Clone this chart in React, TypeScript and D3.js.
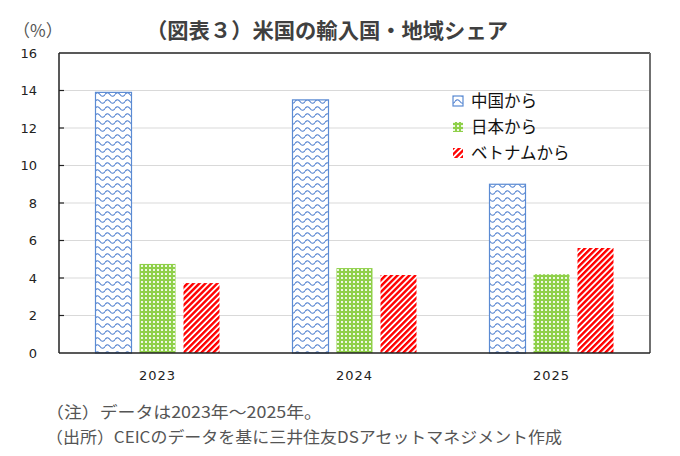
import React from "react";
import * as d3 from "d3";

// Import share of the US by partner (percent)
const years = ["2023", "2024", "2025"];
const seriesNames = ["中国から", "日本から", "ベトナムから"];
const chinaShare = [13.9, 13.5, 9.0];
const japanShare = [4.75, 4.53, 4.2];
const vietnamShare = [3.73, 4.16, 5.6];
const yTicks = [0, 2, 4, 6, 8, 10, 12, 14, 16];

const title = "（図表３）米国の輸入国・地域シェア";
const unitLabel = "（%）";
const notes = [
  "（注）データは2023年～2025年。",
  "（出所）CEICのデータを基に三井住友DSアセットマネジメント作成",
];
const noteWidths = [276, 516];

const W = 680;
const H = 456;
const plot = { left: 59, right: 650, top: 53, bottom: 353 };

const JP = "'Noto Sans CJK JP', 'Noto Sans', sans-serif";
const NUM = "'DejaVu Sans', Verdana, sans-serif";

export default function App() {
  const x = d3.scaleBand<string>().domain(years).range([plot.left, plot.right]);
  const groupWidth = 124;
  const inner = d3
    .scaleBand<string>()
    .domain(seriesNames)
    .range([0, groupWidth])
    .paddingInner(8 / 44)
    .paddingOuter(0);
  const y = d3.scaleLinear().domain([0, 16]).range([plot.bottom, plot.top]);

  const values = [chinaShare, japanShare, vietnamShare];
  const fills = ["url(#pat-china)", "url(#pat-japan)", "url(#pat-vietnam)"];
  const strokes = ["#5b8bd3", "none", "none"];

  const bars = years.flatMap((yr, i) =>
    seriesNames.map((s, j) => {
      const v = values[j][i];
      const x0 = (x(yr) as number) + x.bandwidth() / 2 - groupWidth / 2 + (inner(s) as number);
      return { key: `${yr}-${s}`, x: x0, w: inner.bandwidth(), y: y(v), h: y(0) - y(v), j };
    })
  );

  const legendX = 453;
  const legendY = [101, 127, 153];

  return (
    <svg width={W} height={H} style={{ display: "block", position: "absolute", left: 0, top: 0 }}>
      <defs>
        <pattern id="pat-china" patternUnits="userSpaceOnUse" width={10} height={7} x={95}>
          <rect width={10} height={7} fill="#fff" />
          <path d="M0,3.5 Q2.5,0 5,3.5 T10,3.5" fill="none" stroke="#4f7fcf" strokeWidth={1.1} />
        </pattern>
        <pattern id="pat-japan" patternUnits="userSpaceOnUse" width={4} height={4}>
          <rect width={4} height={4} fill="#8fd04a" />
          <rect x={1} y={1} width={2} height={2} fill="#ffffff" opacity={0.85} />
        </pattern>
        <pattern
          id="pat-vietnam"
          patternUnits="userSpaceOnUse"
          width={4.2}
          height={4.2}
          patternTransform="rotate(45)"
        >
          <rect width={4.2} height={4.2} fill="#fff" />
          <rect width={2.4} height={4.2} fill="#ff0000" />
        </pattern>
      </defs>

      {/* gridlines */}
      {yTicks
        .filter((t) => t > 0 && t < 16)
        .map((t) => (
          <line key={`g${t}`} x1={plot.left} x2={plot.right} y1={y(t)} y2={y(t)} stroke="#d9d9d9" strokeWidth={1} />
        ))}

      {/* bars */}
      {bars.map((b) => (
        <rect
          key={b.key}
          x={b.x}
          y={b.y}
          width={b.w}
          height={b.h}
          fill={fills[b.j]}
          stroke={strokes[b.j]}
          strokeWidth={1.2}
        />
      ))}

      {/* frame */}
      <line x1={plot.left} x2={plot.right} y1={plot.top} y2={plot.top} stroke="#222" strokeWidth={1.3} />
      <line x1={plot.right} x2={plot.right} y1={plot.top} y2={plot.bottom} stroke="#707070" strokeWidth={2} />
      <line x1={plot.left} x2={plot.left} y1={plot.top} y2={plot.bottom} stroke="#222" strokeWidth={1.5} />
      <line x1={plot.left} x2={plot.right} y1={plot.bottom} y2={plot.bottom} stroke="#222" strokeWidth={1.5} />

      {/* y ticks and labels */}
      {yTicks.map((t) => (
        <g key={`t${t}`}>
          {t > 0 && t < 16 && (
            <line x1={plot.left} x2={plot.left + 5} y1={y(t)} y2={y(t)} stroke="#222" strokeWidth={1.2} />
          )}
          <text x={37} y={y(t)} dy="0.36em" textAnchor="end" fontFamily={NUM} fontSize={13} fill="#222">
            {t}
          </text>
        </g>
      ))}

      {/* x labels */}
      {years.map((yr) => (
        <text
          key={`x${yr}`}
          x={(x(yr) as number) + x.bandwidth() / 2}
          y={380}
          textAnchor="middle"
          fontFamily={NUM}
          fontSize={13}
          letterSpacing={1}
          fill="#222"
        >
          {yr}
        </text>
      ))}

      {/* legend */}
      {seriesNames.map((s, j) => (
        <g key={`l${s}`}>
          <rect
            x={legendX}
            y={legendY[j] - 5}
            width={10}
            height={10}
            fill={fills[j]}
            stroke={strokes[j]}
            strokeWidth={1.2}
          />
          <text x={471} y={legendY[j]} dy="0.36em" fontFamily={JP} fontSize={16.5} fill="#111">
            {s}
          </text>
        </g>
      ))}

      {/* title and unit */}
      <text x={13} y={37} fontFamily={JP} fontSize={17} fill="#555">
        {unitLabel}
      </text>
      <text
        x={146}
        y={38}
        fontFamily={JP}
        fontSize={21}
        fontWeight={700}
        fill="#404040"
        textLength={362}
        lengthAdjust="spacingAndGlyphs"
      >
        {title}
      </text>

      {/* notes */}
      {notes.map((n, i) => (
        <text
          key={`n${i}`}
          x={46}
          y={418 + i * 25}
          fontFamily={JP}
          fontSize={16}
          fill="#555"
          textLength={noteWidths[i]}
          lengthAdjust="spacingAndGlyphs"
        >
          {n}
        </text>
      ))}
    </svg>
  );
}
